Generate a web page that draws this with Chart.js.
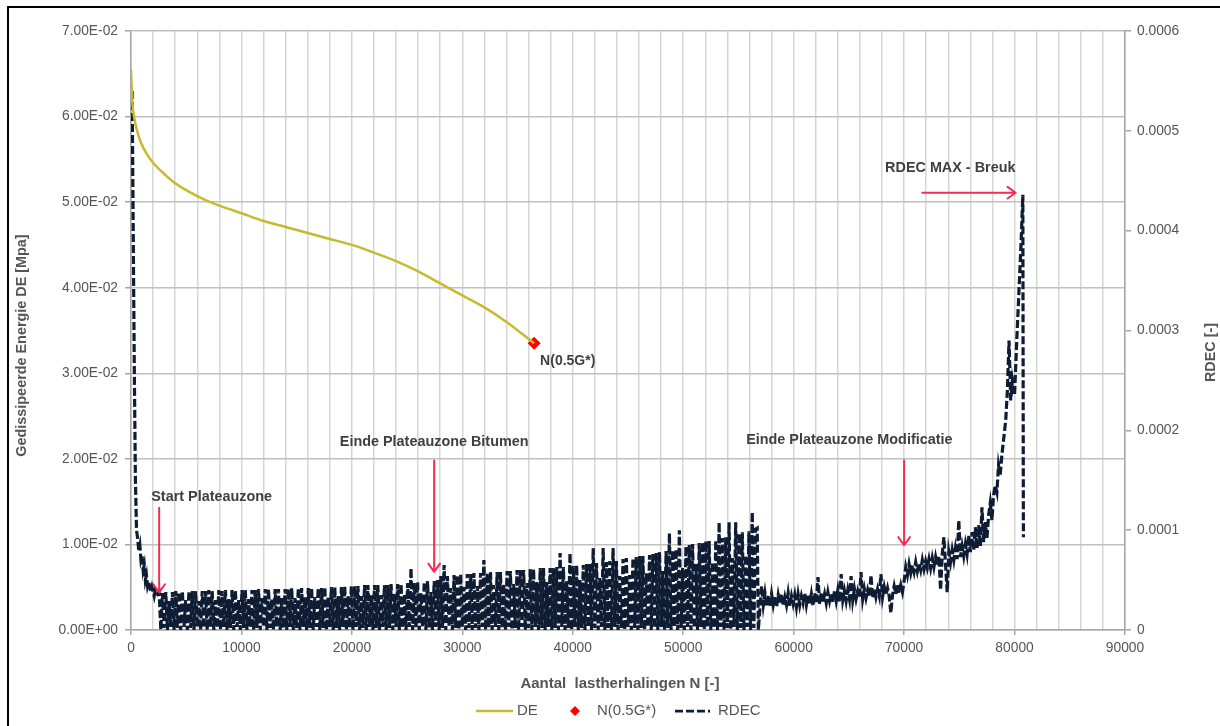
<!DOCTYPE html>
<html>
<head>
<meta charset="utf-8">
<title>DE en RDEC</title>
<script src="https://cdn.jsdelivr.net/npm/chart.js@4.4.1/dist/chart.umd.min.js"></script>
<style>
  html, body { margin: 0; padding: 0; background: #fff; overflow: hidden; }
  #wrap { position: relative; width: 1220px; height: 726px; }
  #chart { position: absolute; left: 0; top: 0; }
  #frame { position: absolute; left: 7px; top: 6px; width: 1300px; height: 800px;
           border-left: 2.5px solid #000; border-top: 2.5px solid #000; pointer-events: none; }
</style>
</head>
<body>
<div id="wrap">
  <canvas id="chart" width="1220" height="726"></canvas>
  <div id="frame"></div>
</div>
<script>
// ---- Gedissipeerde energie DE [MPa] per lastherhaling ----
const deN = [0, 60, 150, 300, 500, 800, 1100, 1400, 2000, 3000, 4000, 5000, 6000, 7000, 8000,
  10000, 12000, 14000, 16000, 18000, 20000, 22000, 24000, 26000, 28000, 30000, 32000, 34000, 36500];
const deValue = [0.0655, 0.0632, 0.0612, 0.0598, 0.0586, 0.0573, 0.0564, 0.0557, 0.0546, 0.0533, 0.0522, 0.0514, 0.0507, 0.0501, 0.0496,
  0.0487, 0.0478, 0.0471, 0.0464, 0.0457, 0.0450, 0.0441, 0.0431, 0.0419, 0.0405, 0.0391, 0.0377, 0.0360, 0.0335];

// ---- N(0.5G*) ----
const markerN = [36500];
const markerValue = [0.0335];

// ---- RDEC [-] : lastherhalingen en waarden (in eenheden van 1e-5) ----
const rdecN = [
  100, 200, 300, 400, 500, 600, 700, 800, 900, 1000,
  1100, 1200, 1300, 1400, 1500, 1600, 1800, 1900, 2100, 2200, 2400,
  2550, 2700, 2850, 3000, 3150, 3300, 3450, 3600, 3750, 3900,
  4050, 4200, 4350, 4500, 4650, 4800, 4950, 5100, 5250, 5400,
  5550, 5700, 5850, 6000, 6150, 6300, 6450, 6600, 6750, 6900,
  7050, 7200, 7350, 7500, 7650, 7800, 7950, 8100, 8250, 8400,
  8550, 8700, 8850, 9000, 9150, 9300, 9450, 9600, 9750, 9900,
  10050, 10200, 10350, 10500, 10650, 10800, 10950, 11100, 11250, 11400,
  11550, 11700, 11850, 12000, 12150, 12300, 12450, 12600, 12750, 12900,
  13050, 13200, 13350, 13500, 13650, 13800, 13950, 14100, 14250, 14400,
  14550, 14700, 14850, 15000, 15150, 15300, 15450, 15600, 15750, 15900,
  16050, 16200, 16350, 16500, 16650, 16800, 16950, 17100, 17250, 17400,
  17550, 17700, 17850, 18000, 18150, 18300, 18450, 18600, 18750, 18900,
  19050, 19200, 19350, 19500, 19650, 19800, 19950, 20100, 20250, 20400,
  20550, 20700, 20850, 21000, 21150, 21300, 21450, 21600, 21750, 21900,
  22050, 22200, 22350, 22500, 22650, 22800, 22950, 23100, 23250, 23400,
  23550, 23700, 23850, 24000, 24150, 24300, 24450, 24600, 24750, 24900,
  25050, 25200, 25350, 25500, 25650, 25800, 25950, 26100, 26250, 26400,
  26550, 26700, 26850, 27000, 27150, 27300, 27450, 27600, 27750, 27900,
  28050, 28200, 28350, 28500, 28650, 28800, 28950, 29100, 29250, 29400,
  29550, 29700, 29850, 30000, 30150, 30300, 30450, 30600, 30750, 30900,
  31050, 31200, 31350, 31500, 31650, 31800, 31950, 32100, 32250, 32400,
  32550, 32700, 32850, 33000, 33150, 33300, 33450, 33600, 33750, 33900,
  34050, 34200, 34350, 34500, 34650, 34800, 34950, 35100, 35250, 35400,
  35550, 35700, 35850, 36000, 36150, 36300, 36450, 36600, 36750, 36900,
  37050, 37200, 37350, 37500, 37650, 37800, 37950, 38100, 38250, 38400,
  38550, 38700, 38850, 39000, 39150, 39300, 39450, 39600, 39750, 39900,
  40050, 40200, 40350, 40500, 40650, 40800, 40950, 41100, 41250, 41400,
  41550, 41700, 41850, 42000, 42150, 42300, 42450, 42600, 42750, 42900,
  43050, 43200, 43350, 43500, 43650, 43800, 43950, 44100, 44250, 44400,
  44550, 44700, 44850, 45000, 45150, 45300, 45450, 45600, 45750, 45900,
  46050, 46200, 46350, 46500, 46650, 46800, 46950, 47100, 47250, 47400,
  47550, 47700, 47850, 48000, 48150, 48300, 48450, 48600, 48750, 48900,
  49050, 49200, 49350, 49500, 49650, 49800, 49950, 50100, 50250, 50400,
  50550, 50700, 50850, 51000, 51150, 51300, 51450, 51600, 51750, 51900,
  52050, 52200, 52350, 52500, 52650, 52800, 52950, 53100, 53250, 53400,
  53550, 53700, 53850, 54000, 54150, 54300, 54450, 54600, 54750, 54900,
  55050, 55200, 55350, 55500, 55650, 55800, 55950, 56100, 56250, 56400,
  56550, 56700, 56800,
  56950, 57100, 57250, 57400, 57550, 57700, 57850, 58000, 58150, 58300,
  58450, 58600, 58750, 58900, 59050, 59200, 59350, 59500, 59650, 59800,
  59950, 60100, 60250, 60400, 60550, 60700, 60850, 61000, 61150, 61300,
  61450, 61600, 61750, 61900, 62050, 62200, 62350, 62500, 62650, 62800,
  62950, 63100, 63250, 63400, 63550, 63700, 63850, 64000, 64150, 64300,
  64450, 64600, 64750, 64900, 65050, 65200, 65350, 65500, 65650, 65800,
  65950, 66100, 66250, 66400, 66550, 66700, 66850, 67000, 67150, 67300,
  67450, 67600, 67750, 67900, 68050, 68200, 68350, 68500, 68650, 68800,
  68950, 69100, 69250, 69400, 69550, 69700, 69850, 70000,
  70150, 70300, 70450, 70600, 70750, 70900, 71050, 71200, 71350, 71500,
  71650, 71800, 71950, 72100, 72250, 72400, 72550, 72700, 72850, 73000,
  73150, 73300, 73450, 73600, 73750, 73900, 74050, 74200, 74350, 74500,
  74650, 74800, 74950, 75100, 75250, 75400, 75550, 75700, 75850, 76000,
  76150, 76300, 76450, 76600, 76750, 76900, 77050, 77200, 77350, 77500,
  77650, 77800, 77950, 78100, 78250, 78400, 78550, 78700, 78850, 79000,
  79200, 79350, 79500, 79650, 79800, 80000, 80200, 80400, 80600, 80750, 80800
];
const rdecE5 = [
  54, 40, 26, 15, 10, 9.2, 8, 8.5, 7, 7.4,
  6, 6.5, 5, 5.5, 4.4, 4.8, 3.8, 4.3, 3.4, 4.0, 3.6,
  3.8, 0, 3.7, 0.2, 3.8, 0, 2.9, 0.3, 3.8, 0,
  3.9, 0.2, 3.8, 0, 3.9, 0.3, 3.0, 0, 3.9, 0.2,
  3.9, 0, 3.9, 0.3, 2.9, 0, 3.9, 0.2, 3.9, 0,
  4.0, 0.3, 3.9, 0, 3.0, 0.2, 4.0, 0, 3.9, 0.3,
  4.0, 0, 3.1, 0.2, 4.0, 0, 4.0, 0.3, 3.0, 0,
  4.0, 0.2, 4.0, 0, 3.1, 0.3, 4.0, 0, 4.0, 0.2,
  4.1, 0, 3.2, 0.3, 4.1, 0, 4.1, 0.2, 3.1, 0,
  4.1, 0.3, 4.1, 0, 3.2, 0.2, 4.1, 0, 4.1, 0.3,
  4.2, 0, 3.2, 0.2, 4.2, 0, 4.2, 0.3, 3.3, 0,
  4.2, 0.2, 4.2, 0, 3.3, 0.3, 4.2, 0, 4.2, 0.2,
  4.3, 0, 3.3, 0.3, 4.3, 0, 4.3, 0.2, 3.4, 0,
  4.3, 0.3, 4.4, 0, 3.4, 0.2, 4.4, 0, 4.4, 0.3,
  4.4, 0, 3.4, 0.2, 4.5, 0, 4.5, 0.3, 3.5, 0,
  4.5, 0.2, 4.5, 0, 3.5, 0.3, 4.5, 0, 4.5, 0.2,
  4.6, 0, 3.6, 0.3, 4.6, 0, 4.6, 0.2, 3.6, 0,
  4.7, 0.3, 6.2, 0, 4.7, 0.2, 4.8, 0, 3.7, 0.3,
  4.8, 0, 4.9, 0.2, 3.8, 0, 4.9, 0.3, 5.0, 0,
  5.4, 0.2, 6.5, 0, 5.4, 0.3, 4.2, 0, 5.5, 0.2,
  5.5, 0, 5.6, 0.3, 4.3, 0, 5.6, 0.2, 5.6, 0,
  5.7, 0.2, 4.4, 0, 5.7, 0.3, 7.0, 0, 5.7, 0.2,
  5.8, 0, 4.5, 0.3, 5.8, 0, 5.8, 0.2, 4.6, 0,
  5.9, 0.3, 5.9, 0, 4.6, 0.2, 6.0, 0, 6.0, 0.3,
  6.0, 0, 4.7, 0.2, 6.1, 0, 6.1, 0.3, 4.8, 0,
  6.2, 0.2, 6.2, 0, 4.8, 0.3, 6.2, 0, 6.2, 0.2,
  6.3, 0, 7.7, 0.3, 6.3, 0, 4.9, 0.2, 7.7, 0,
  6.4, 0.3, 6.5, 0, 5.0, 0.2, 6.5, 0, 6.6, 0.3,
  6.6, 0, 8.2, 0.2, 6.7, 0, 5.2, 0.3, 8.2, 0,
  6.8, 0.2, 6.9, 0, 8.2, 0.3, 6.9, 0, 5.4, 0.2,
  7.1, 0, 7.2, 0.3, 5.5, 0, 7.2, 0.2, 7.3, 0,
  7.4, 0.2, 7.4, 0, 5.7, 0.3, 7.5, 0, 7.6, 0.2,
  7.7, 0, 7.8, 0.3, 5.9, 0, 7.9, 0.2, 9.7, 0,
  8.0, 0.3, 8.1, 0, 10.0, 0.2, 6.2, 0, 8.4, 0.3,
  8.5, 0, 8.6, 0.2, 6.6, 0, 8.7, 0.3, 8.8, 0,
  8.9, 0.3, 8.9, 0, 6.8, 0.2, 9.0, 0, 10.8, 0.3,
  9.2, 0, 9.3, 0.2, 10.8, 0, 7.2, 0.3, 10.8, 0,
  9.7, 0.2, 9.8, 0, 7.5, 0.3, 9.9, 0, 11.8, 0.2,
  10.1, 10.2, 0,
  2.2, 4.4, 2.5, 3.7, 2.4, 3.5, 2.3, 3.6, 2.5, 3.4,
  2.3, 3.5, 2.6, 3.6, 2.4, 3.3, 2.5, 3.7, 2.4, 3.4,
  2.6, 3.5, 2.3, 3.6, 2.5, 3.4, 2.7, 3.7, 2.5, 3.5,
  2.6, 3.6, 2.4, 3.7, 2.7, 5.3, 2.6, 3.8, 2.8, 3.6,
  2.7, 3.8, 2.9, 3.7, 2.8, 3.9, 2.9, 4.0, 2.8, 5.6,
  3.0, 3.9, 2.9, 4.0, 3.1, 5.4, 3.0, 4.1, 3.1, 3.9,
  3.2, 5.8, 3.1, 4.1, 3.2, 4.0, 3.3, 5.5, 3.2, 4.2,
  3.3, 4.1, 3.4, 5.6, 3.3, 4.3, 3.5, 4.2, 3.4, 1.7,
  3.5, 4.4, 3.6, 4.6, 3.7, 4.5, 3.8, 4.9,
  6.3, 5.5, 6.6, 5.7, 6.5, 5.8, 6.8, 5.9, 6.7, 6.0,
  7.0, 6.1, 6.9, 6.2, 7.1, 6.2, 7.2, 6.3, 7.3, 6.4,
  7.4, 4.0, 7.5, 9.3, 6.6, 3.8, 7.8, 6.8, 8.0, 7.0,
  8.2, 7.1, 11.0, 7.3, 8.4, 7.4, 8.6, 7.6, 9.5, 7.8,
  9.8, 8.0, 10.3, 8.2, 10.5, 8.4, 12.3, 8.8, 10.8, 9.2,
  11.5, 12.7, 11.0, 13.5, 14.5, 13.8, 16.5, 15.5, 17.5, 19.0,
  21.0, 24.0, 29.0, 23.0, 25.0, 23.5, 29.0, 34.0, 39.0, 43.6, 9.3
];

// ---- Assen ----
const xMax = 90000, xGridStep = 2000, xLabelStep = 10000;
const deAxisMax = 0.07, deAxisStep = 0.01;
const rdecAxisMax = 0.0006, rdecAxisStep = 0.0001;

const FONT = '"Liberation Sans", Arial, sans-serif';
const GREY_TEXT = '#555555';
const AXIS_LINE = '#a6a6a6';
const DE_COLOR = '#c8b92f';
const RDEC_COLOR = '#0e1c34';
const MARKER_COLOR = '#ff0000';
const ARROW_COLOR = '#f42c52';
const RDEC_DASH = [8, 3];
const RDEC_WIDTH = 3.2;

// Tekst en pijlen in de grafiek (posities in aswaarden: N en DE)
const notes = [
  { text: 'Start Plateauzone', n: 7300, de: 0.0155, from: [2550, 0.0143], to: [2550, 0.0044] },
  { text: 'Einde Plateauzone Bitumen', n: 27450, de: 0.0220, from: [27450, 0.0198], to: [27450, 0.0068] },
  { text: 'Einde Plateauzone Modificatie', n: 65040, de: 0.0222, from: [70000, 0.0198], to: [70000, 0.0099] },
  { text: 'RDEC MAX - Breuk', n: 74180, de: 0.0540, from: [71650, 0.0511], to: [80100, 0.0511] }
];

function sciLabel(v) {
  const parts = Number(v).toExponential(2).split('e');
  const exp = parseInt(parts[1], 10);
  return parts[0] + 'E' + (exp < 0 ? '-' : '+') + String(Math.abs(exp)).padStart(2, '0');
}

function drawArrow(ctx, x1, y1, x2, y2) {
  const ang = Math.atan2(y2 - y1, x2 - x1);
  const head = 10, spread = 0.62;
  ctx.beginPath();
  ctx.moveTo(x1, y1);
  ctx.lineTo(x2, y2);
  ctx.moveTo(x2 - head * Math.cos(ang - spread), y2 - head * Math.sin(ang - spread));
  ctx.lineTo(x2, y2);
  ctx.lineTo(x2 - head * Math.cos(ang + spread), y2 - head * Math.sin(ang + spread));
  ctx.stroke();
}

const decorations = {
  id: 'decorations',
  afterDatasetsDraw(chart) {
    const { ctx, scales: { x, y } } = chart;
    ctx.save();
    // pijlen
    ctx.strokeStyle = ARROW_COLOR;
    ctx.lineWidth = 2;
    ctx.lineCap = 'round';
    ctx.lineJoin = 'round';
    notes.forEach(nt => {
      drawArrow(ctx, x.getPixelForValue(nt.from[0]), y.getPixelForValue(nt.from[1]),
                     x.getPixelForValue(nt.to[0]), y.getPixelForValue(nt.to[1]));
    });
    // teksten
    ctx.fillStyle = '#3f3f3f';
    ctx.font = 'bold 14.4px ' + FONT;
    ctx.textAlign = 'center';
    ctx.textBaseline = 'middle';
    notes.forEach(nt => {
      ctx.fillText(nt.text, x.getPixelForValue(nt.n), y.getPixelForValue(nt.de));
    });
    // label bij N(0.5G*)
    ctx.textAlign = 'left';
    ctx.font = 'bold 14px ' + FONT;
    ctx.fillText('N(0.5G*)', x.getPixelForValue(markerN[0]) + 6, y.getPixelForValue(markerValue[0]) + 18);
    ctx.restore();
  },
  afterDraw(chart) {
    const { ctx, chartArea: a } = chart;
    const midY = (a.top + a.bottom) / 2;
    const midX = (a.left + a.right) / 2;
    ctx.save();
    ctx.fillStyle = GREY_TEXT;
    ctx.textAlign = 'center';
    ctx.textBaseline = 'middle';
    // astitels
    ctx.font = 'bold 14.4px ' + FONT;
    ctx.save();
    ctx.translate(a.left - 109, midY + 15);
    ctx.rotate(-Math.PI / 2);
    ctx.fillText('Gedissipeerde Energie DE [Mpa]', 0, 0);
    ctx.restore();
    ctx.save();
    ctx.translate(a.right + 86, midY + 22);
    ctx.rotate(-Math.PI / 2);
    ctx.fillText('RDEC [-]', 0, 0);
    ctx.restore();
    ctx.font = 'bold 15px ' + FONT;
    ctx.fillText('Aantal  lastherhalingen N [-]', midX - 8, a.bottom + 54);

    // legenda
    const ly = a.bottom + 81;
    ctx.font = '15px ' + FONT;
    ctx.textAlign = 'left';
    ctx.lineCap = 'butt';
    ctx.strokeStyle = DE_COLOR;
    ctx.lineWidth = 2.5;
    ctx.beginPath(); ctx.moveTo(midX - 152, ly); ctx.lineTo(midX - 115, ly); ctx.stroke();
    ctx.fillText('DE', midX - 111, ly);
    ctx.fillStyle = MARKER_COLOR;
    ctx.beginPath();
    ctx.moveTo(midX - 53, ly - 5); ctx.lineTo(midX - 48, ly); ctx.lineTo(midX - 53, ly + 5); ctx.lineTo(midX - 58, ly);
    ctx.closePath(); ctx.fill();
    ctx.fillStyle = GREY_TEXT;
    ctx.fillText('N(0.5G*)', midX - 31, ly);
    ctx.strokeStyle = RDEC_COLOR;
    ctx.lineWidth = 2.75;
    ctx.setLineDash(RDEC_DASH);
    ctx.beginPath(); ctx.moveTo(midX + 47, ly); ctx.lineTo(midX + 82, ly); ctx.stroke();
    ctx.setLineDash([]);
    ctx.fillText('RDEC', midX + 90, ly);
    ctx.restore();
  }
};

Chart.defaults.font.family = FONT;

new Chart(document.getElementById('chart'), {
  type: 'line',
  data: {
    datasets: [
      {
        label: 'DE',
        data: deN.map((n, i) => ({ x: n, y: deValue[i] })),
        yAxisID: 'y',
        borderColor: DE_COLOR,
        borderWidth: 2.5,
        pointRadius: 0,
        cubicInterpolationMode: 'monotone'
      },
      {
        label: 'N(0.5G*)',
        data: markerN.map((n, i) => ({ x: n, y: markerValue[i] })),
        yAxisID: 'y',
        showLine: false,
        pointStyle: 'rectRot',
        pointRadius: 6.5,
        backgroundColor: MARKER_COLOR,
        borderColor: MARKER_COLOR,
        borderWidth: 0
      },
      {
        label: 'RDEC',
        data: rdecN.map((n, i) => ({ x: n, y: rdecE5[i] * 1e-5 })),
        yAxisID: 'y1',
        borderColor: RDEC_COLOR,
        borderWidth: RDEC_WIDTH,
        borderDash: RDEC_DASH,
        pointRadius: 0,
        tension: 0
      }
    ]
  },
  options: {
    responsive: false,
    devicePixelRatio: 1,
    animation: false,
    events: [],
    layout: { padding: { left: 0, right: 0, top: 31, bottom: 0 } },
    plugins: { legend: { display: false }, tooltip: { enabled: false } },
    scales: {
      x: {
        type: 'linear',
        position: 'bottom',
        min: 0,
        max: xMax,
        afterFit: s => { s.height = 96; },
        ticks: {
          stepSize: xGridStep,
          maxTicksLimit: 100,
          autoSkip: false,
          maxRotation: 0,
          minRotation: 0,
          padding: 5,
          color: GREY_TEXT,
          font: { size: 13.8 },
          callback: v => (v % xLabelStep === 0 ? String(v) : '')
        },
        grid: {
          color: '#d6d6d6',
          lineWidth: 1.5,
          tickLength: 5,
          tickColor: c => (c.tick && c.tick.value % xLabelStep === 0 ? AXIS_LINE : 'rgba(0,0,0,0)')
        },
        border: { color: AXIS_LINE, width: 1.5 }
      },
      y: {
        position: 'left',
        min: 0,
        max: deAxisMax,
        afterFit: s => { s.width = 131; },
        ticks: {
          stepSize: deAxisStep,
          padding: 7,
          color: GREY_TEXT,
          font: { size: 13.8 },
          callback: v => sciLabel(v)
        },
        grid: { color: '#c0c0c0', lineWidth: 1.5, tickLength: 6, tickColor: AXIS_LINE },
        border: { color: AXIS_LINE, width: 1.5 }
      },
      y1: {
        position: 'right',
        min: 0,
        max: rdecAxisMax,
        afterFit: s => { s.width = 95; },
        ticks: {
          stepSize: rdecAxisStep,
          padding: 6,
          color: GREY_TEXT,
          font: { size: 13.8 },
          callback: v => (v === 0 ? '0' : Number(v).toFixed(4))
        },
        grid: { drawOnChartArea: false, tickLength: 6, tickColor: AXIS_LINE, lineWidth: 1.5 },
        border: { color: AXIS_LINE, width: 1.5 }
      }
    }
  },
  plugins: [decorations]
});
</script>
</body>
</html>
